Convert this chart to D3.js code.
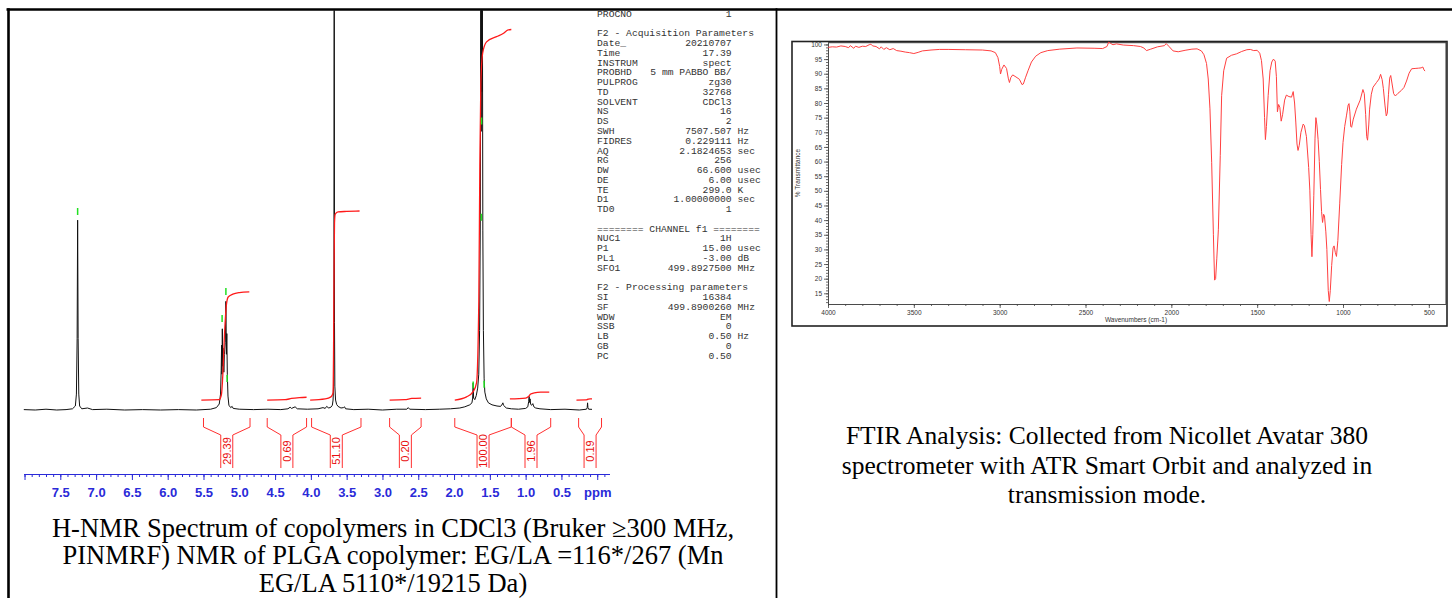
<!DOCTYPE html>
<html>
<head>
<meta charset="utf-8">
<script src="https://cdn.jsdelivr.net/npm/d3@7"></script>
<style>
  html, body { margin: 0; padding: 0; background: #fff; }
  svg { display: block; }
</style>
</head>
<body>
<svg id="page" width="1452" height="598"></svg>
<script>
// ---------------- data ----------------
// 1H NMR trace, [ppm, relative intensity] (baseline = 0)
var nmrTrace = [
  [8.01, 0.1], [7.85, 0.0], [7.70, 0.2], [7.55, 0.0], [7.42, 0.1], [7.33, 0.3],
  [7.29, 1.0], [7.275, 4], [7.265, 18], [7.258, 47.7], [7.251, 18], [7.242, 4],
  [7.23, 1.0], [7.20, 0.3], [7.12, 0.5], [7.05, 0.1], [6.85, 0.2], [6.60, 0.0],
  [6.35, 0.1], [6.10, 0.0], [5.85, 0.1], [5.60, 0.0], [5.40, 0.2], [5.32, 0.6],
  [5.28, 1.5], [5.262, 4], [5.253, 10], [5.247, 16.3], [5.242, 9], [5.237, 20.4],
  [5.231, 11], [5.224, 15.5], [5.216, 9.5], [5.208, 14], [5.196, 17], [5.187, 27.3],
  [5.180, 14], [5.174, 19.2], [5.167, 9], [5.158, 3.5], [5.145, 1.2], [5.12, 0.6],
  [5.10, 0.9], [5.085, 0.4], [5.00, 0.2], [4.80, 0.1], [4.60, 0.2], [4.42, 0.1],
  [4.32, 0.3], [4.29, 0.7], [4.27, 0.4], [4.22, 0.8], [4.19, 0.3], [4.05, 0.2],
  [3.90, 0.3], [3.83, 0.6], [3.80, 0.4], [3.78, 0.9], [3.75, 0.5], [3.72, 0.7],
  [3.70, 1.2], [3.69, 2.5], [3.683, 6], [3.678, 22], [3.674, 135], [3.670, 22],
  [3.665, 6], [3.655, 2.5], [3.64, 1.4], [3.62, 0.9], [3.58, 0.5], [3.545, 0.6],
  [3.53, 0.8], [3.515, 0.3], [3.40, 0.1], [3.20, 0.2], [3.00, 0.0], [2.80, 0.2],
  [2.66, 0.2], [2.64, 0.6], [2.62, 0.2], [2.40, 0.1], [2.20, 0.2], [2.05, 0.3],
  [1.92, 0.5], [1.85, 0.8], [1.78, 1.3], [1.75, 1.8], [1.74, 3], [1.733, 6.8],
  [1.727, 3], [1.71, 2.6], [1.69, 3.6], [1.67, 5.5], [1.655, 9], [1.643, 20],
  [1.633, 48], [1.626, 110], [1.621, 70], [1.616, 140], [1.611, 80], [1.605, 115],
  [1.598, 45], [1.59, 20], [1.58, 8], [1.57, 4.5], [1.55, 2.8], [1.52, 1.8],
  [1.47, 1.3], [1.40, 1.0], [1.35, 0.9], [1.325, 1.5], [1.318, 1.8], [1.31, 1.2],
  [1.27, 0.5], [1.20, 0.3], [1.10, 0.2], [1.00, 0.4], [0.97, 0.8], [0.957, 2.2],
  [0.951, 3.4], [0.945, 1.9], [0.938, 2.8], [0.93, 1.4], [0.915, 1.2], [0.90, 1.6],
  [0.885, 0.8], [0.86, 0.5], [0.80, 0.3], [0.65, 0.1], [0.45, 0.2], [0.25, 0.0],
  [0.15, 0.2], [0.14, 0.6], [0.135, 1.8], [0.13, 0.6], [0.12, 0.2], [0.00, 0.1],
  [-0.10, 0.0], [-0.17, 0.1]
];

// integral curves drawn over the peaks, same intensity units
var integralCurves = [
  [[5.53, 2.5], [5.28, 2.6], [5.25, 3.8], [5.23, 8.8], [5.21, 17.6], [5.18, 26.4], [5.155, 28.4], [5.09, 29.1], [5.00, 29.5], [4.86, 29.7]],
  [[4.61, 2.5], [4.36, 2.6], [4.27, 2.9], [4.16, 3.1], [4.06, 3.2]],
  [[4.01, 2.5], [3.80, 2.8], [3.72, 3.3], [3.69, 4.3], [3.683, 15], [3.676, 35], [3.67, 47], [3.66, 49.2], [3.62, 49.8], [3.50, 49.9], [3.32, 50.0]],
  [[2.90, 2.5], [2.69, 2.6], [2.59, 2.9], [2.46, 3.0]],
  [[1.99, 2.5], [1.825, 3.3], [1.733, 4.6], [1.686, 6.8], [1.654, 27.6], [1.64, 61], [1.626, 82], [1.60, 89.7], [1.546, 92.5], [1.406, 93.8], [1.314, 94.6], [1.244, 95.5], [1.20, 95.6]],
  [[1.22, 2.8], [1.00, 3.0], [0.96, 3.4], [0.93, 4.0], [0.88, 4.3], [0.79, 4.5], [0.67, 4.5]],
  [[0.29, 2.5], [0.16, 2.55], [0.13, 2.7], [0.10, 2.8], [-0.01, 2.8]]
];
var integralRanges = [[5.50, 4.85], [4.61, 4.06], [3.99, 3.30], [2.90, 2.46], [1.99, 1.20], [1.20, 0.65], [0.26, -0.06]];
var integralLabels = ['29.39', '0.69', '51.10', '0.20', '100.00', '1.96', '0.19'];

// peak picking marks [ppm, intensity]
var peakMarks = [[7.258, 49.9], [5.187, 29.8], [5.24, 23.0], [5.17, 7.9], [1.616, 72.6], [1.619, 48.4], [1.733, 6.3], [1.58, 6.5]];

var ppmMajor = [8.0, 7.5, 7.0, 6.5, 6.0, 5.5, 5.0, 4.5, 4.0, 3.5, 3.0, 2.5, 2.0, 1.5, 1.0, 0.5, 0.0];
var ppmLabels = ['', '7.5', '7.0', '6.5', '6.0', '5.5', '5.0', '4.5', '4.0', '3.5', '3.0', '2.5', '2.0', '1.5', '1.0', '0.5', 'ppm'];

// acquisition / processing parameters [name, value, unit]
var paramLines = [
  ['PROCNO', '1', ''],
  ['', '', ''],
  ['F2 - Acquisition Parameters', '', ''],
  ['Date_', '20210707', ''],
  ['Time', '17.39', ''],
  ['INSTRUM', 'spect', ''],
  ['PROBHD', '5 mm PABBO BB/', ''],
  ['PULPROG', 'zg30', ''],
  ['TD', '32768', ''],
  ['SOLVENT', 'CDCl3', ''],
  ['NS', '16', ''],
  ['DS', '2', ''],
  ['SWH', '7507.507', 'Hz'],
  ['FIDRES', '0.229111', 'Hz'],
  ['AQ', '2.1824653', 'sec'],
  ['RG', '256', ''],
  ['DW', '66.600', 'usec'],
  ['DE', '6.00', 'usec'],
  ['TE', '299.0', 'K'],
  ['D1', '1.00000000', 'sec'],
  ['TD0', '1', ''],
  ['', '', ''],
  ['======== CHANNEL f1 ========', '', ''],
  ['NUC1', '1H', ''],
  ['P1', '15.00', 'usec'],
  ['PL1', '-3.00', 'dB'],
  ['SFO1', '499.8927500', 'MHz'],
  ['', '', ''],
  ['F2 - Processing parameters', '', ''],
  ['SI', '16384', ''],
  ['SF', '499.8900260', 'MHz'],
  ['WDW', 'EM', ''],
  ['SSB', '0', ''],
  ['LB', '0.50', 'Hz'],
  ['GB', '0', ''],
  ['PC', '0.50', '']
];

// FTIR trace, [wavenumber cm-1, % transmittance]
var ftirTrace = [
  [4000, 99.0], [3975, 99.2], [3950, 99.1], [3925, 99.5], [3900, 99.3], [3880, 98.9], [3870, 99.6],
  [3850, 98.7], [3840, 99.4], [3820, 99.0], [3800, 99.4], [3780, 99.3], [3760, 99.9], [3750, 100.1],
  [3740, 99.5], [3720, 99.3], [3700, 98.5], [3690, 99.2], [3675, 98.3], [3660, 98.9], [3640, 98.2],
  [3620, 98.6], [3600, 97.9], [3575, 97.7], [3550, 97.4], [3525, 97.2], [3500, 96.9], [3475, 97.3],
  [3450, 97.8], [3400, 98.1], [3350, 98.3], [3300, 98.3], [3200, 98.2], [3100, 98.1], [3050, 97.8],
  [3025, 97.2], [3010, 95.5], [3000, 92.5], [2995, 89.9], [2988, 91.5], [2975, 93.0], [2960, 91.8],
  [2950, 88.5], [2943, 87.0], [2935, 88.7], [2924, 89.6], [2905, 88.9], [2885, 88.1], [2870, 86.3],
  [2862, 86.5], [2850, 88.6], [2835, 91.0], [2815, 94.0], [2790, 96.0], [2760, 97.2], [2720, 97.9],
  [2650, 98.4], [2550, 98.8], [2450, 98.7], [2400, 98.6], [2375, 99.3], [2365, 100.8], [2355, 100.4],
  [2340, 99.9], [2320, 100.2], [2280, 99.8], [2220, 99.6], [2180, 99.3], [2160, 98.8], [2145, 97.9],
  [2120, 98.4], [2080, 99.2], [2040, 99.6], [2030, 100.3], [2015, 99.4], [1990, 97.8], [1960, 97.5],
  [1920, 98.0], [1880, 98.4], [1850, 98.5], [1825, 97.8], [1810, 96.5], [1795, 93.5], [1785, 88.2],
  [1775, 78.0], [1765, 59.6], [1755, 35.0], [1748, 19.5], [1742, 20.0], [1735, 27.0], [1726, 36.7],
  [1715, 62.0], [1707, 82.5], [1695, 91.0], [1678, 95.3], [1650, 96.3], [1620, 96.8], [1590, 97.6],
  [1560, 98.2], [1540, 98.3], [1520, 97.9], [1500, 98.0], [1485, 97.0], [1475, 94.5], [1465, 88.2],
  [1457, 75.0], [1452, 67.5], [1446, 72.0], [1436, 82.5], [1425, 91.0], [1415, 94.0], [1405, 95.0],
  [1395, 94.3], [1388, 89.0], [1382, 77.0], [1375, 79.5], [1368, 78.5], [1360, 73.8], [1352, 76.0],
  [1340, 81.0], [1330, 82.7], [1315, 82.2], [1300, 82.0], [1290, 83.9], [1282, 80.0], [1275, 73.5],
  [1268, 66.0], [1262, 63.8], [1255, 65.5], [1245, 70.0], [1232, 72.8], [1225, 72.3], [1213, 68.5],
  [1200, 58.0], [1193, 50.0], [1186, 35.0], [1181, 27.5], [1176, 35.0], [1170, 48.5], [1163, 68.0],
  [1158, 75.0], [1152, 72.5], [1145, 67.5], [1138, 60.0], [1131, 50.5], [1125, 43.0], [1119, 39.2],
  [1113, 42.0], [1108, 41.5], [1100, 36.0], [1094, 30.0], [1086, 16.0], [1080, 12.2], [1074, 16.0],
  [1066, 24.5], [1058, 30.5], [1052, 31.2], [1045, 29.0], [1038, 27.6], [1030, 33.0], [1019, 45.8],
  [1008, 59.0], [1000, 66.5], [990, 72.0], [980, 75.6], [970, 79.3], [965, 79.8], [960, 77.0],
  [955, 72.0], [950, 71.7], [940, 74.5], [922, 77.9], [900, 81.0], [884, 84.6], [876, 83.2],
  [868, 76.0], [862, 68.5], [857, 67.3], [850, 72.5], [845, 77.9], [835, 83.0], [825, 85.4],
  [805, 87.0], [790, 88.2], [781, 89.8], [772, 88.0], [765, 85.0], [755, 79.0], [748, 75.6],
  [742, 76.5], [735, 83.0], [728, 88.5], [722, 89.4], [714, 86.5], [705, 83.2], [695, 82.4],
  [680, 83.3], [660, 84.3], [645, 85.3], [630, 87.5], [615, 90.2], [600, 91.7], [580, 91.8],
  [560, 91.9], [545, 92.0], [535, 92.3], [528, 91.3], [522, 90.9]
];
var ftirXTicks = [4000, 3500, 3000, 2500, 2000, 1500, 1000, 500];
var ftirYTicks = [15, 20, 25, 30, 35, 40, 45, 50, 55, 60, 65, 70, 75, 80, 85, 90, 95, 100];

var nmrCaption = [
  'H-NMR Spectrum of copolymers in CDCl3 (Bruker \u2265300 MHz,',
  'PINMRF) NMR of PLGA copolymer: EG/LA =116*/267 (Mn',
  'EG/LA 5110*/19215 Da)'
];
var ftirCaption = [
  'FTIR Analysis: Collected from Nicollet Avatar 380',
  'spectrometer with ATR Smart Orbit and analyzed in',
  'transmission mode.'
];

// ---------------- page ----------------
var svg = d3.select('#page');
svg.append('rect').attr('width', 1452).attr('height', 598).attr('fill', '#fff');

var defs = svg.append('defs');
defs.append('clipPath').attr('id', 'nmrClip')
  .append('rect').attr('x', 12).attr('y', 10.5).attr('width', 580).attr('height', 420);
defs.append('clipPath').attr('id', 'paramClip')
  .append('rect').attr('x', 590).attr('y', 10.5).attr('width', 185).attr('height', 360);

// ---------------- NMR ----------------
var x = d3.scaleLinear().domain([8.01, -0.17]).range([23.8, 609.4]);
var y = d3.scaleLinear().domain([0, 100]).range([410, 12]);

var nmr = svg.append('g').attr('class', 'nmr');
var plot = nmr.append('g').attr('clip-path', 'url(#nmrClip)');

var line = d3.line()
  .x(function (d) { return x(d[0]); })
  .y(function (d) { return y(d[1]); });

plot.append('path')
  .datum(nmrTrace)
  .attr('d', line)
  .attr('fill', 'none')
  .attr('stroke', '#111')
  .attr('stroke-width', 1)
  .attr('stroke-linejoin', 'round');

var smooth = d3.line()
  .x(function (d) { return x(d[0]); })
  .y(function (d) { return y(d[1]); })
  .curve(d3.curveMonotoneX);

plot.selectAll('path.integral')
  .data(integralCurves)
  .enter().append('path')
  .attr('class', 'integral')
  .attr('d', smooth)
  .attr('fill', 'none')
  .attr('stroke', '#ff1a1a')
  .attr('stroke-width', 1.3);

plot.selectAll('line.mark')
  .data(peakMarks)
  .enter().append('line')
  .attr('class', 'mark')
  .attr('x1', function (d) { return x(d[0]); })
  .attr('x2', function (d) { return x(d[0]); })
  .attr('y1', function (d) { return y(d[1]) - 3.5; })
  .attr('y2', function (d) { return y(d[1]) + 3.5; })
  .attr('stroke', '#22e022')
  .attr('stroke-width', 1.5);

// integral brackets below the spectrum
var brackets = nmr.selectAll('g.bracket')
  .data(integralRanges)
  .enter().append('g')
  .attr('class', 'bracket');

brackets.append('path')
  .attr('d', function (d) {
    var xl = x(d[0]), xr = x(d[1]), xc = (xl + xr) / 2;
    return 'M' + xl + ',418V427L' + (xc - 6) + ',435V468' +
           'M' + xr + ',418V427L' + (xc + 6) + ',435V468';
  })
  .attr('fill', 'none')
  .attr('stroke', '#ff3030')
  .attr('stroke-width', 1);

brackets.append('text')
  .attr('transform', function (d) {
    var xc = (x(d[0]) + x(d[1])) / 2;
    return 'translate(' + xc + ',451) rotate(-90)';
  })
  .attr('text-anchor', 'middle')
  .attr('dy', '0.36em')
  .attr('font-family', 'Liberation Sans, Arial, sans-serif')
  .attr('font-size', 11)
  .attr('fill', '#e81010')
  .text(function (d, i) { return integralLabels[i]; });

// ppm axis
var minorTicks = d3.range(-1, 81).map(function (i) { return i / 10; });
var axisMinor = d3.axisBottom(x).tickValues(minorTicks).tickSize(3).tickSizeOuter(0).tickFormat('');
var axisMajor = d3.axisBottom(x).tickValues(ppmMajor).tickSize(6).tickSizeOuter(0).tickPadding(8)
  .tickFormat(function (d, i) { return ppmLabels[i]; });

var gMinor = nmr.append('g').attr('transform', 'translate(0,474)').call(axisMinor);
var gMajor = nmr.append('g').attr('transform', 'translate(0,474)').call(axisMajor);
[gMinor, gMajor].forEach(function (g) {
  g.selectAll('path, line').attr('stroke', '#2a2ad8');
});
gMajor.selectAll('text')
  .attr('fill', '#2a2ad8')
  .attr('font-family', 'Liberation Sans, Arial, sans-serif')
  .attr('font-weight', 'bold')
  .attr('font-size', 13);

// parameter listing
var params = nmr.append('g')
  .attr('font-family', 'Liberation Mono, monospace')
  .attr('font-size', 9.7)
  .attr('fill', '#333')
  .attr('clip-path', 'url(#paramClip)');

var rows = params.selectAll('g.row')
  .data(paramLines)
  .enter().append('g')
  .attr('class', 'row')
  .attr('transform', function (d, i) { return 'translate(0,' + (16.8 + i * 9.765) + ')'; });
rows.append('text').attr('x', 597).attr('xml:space', 'preserve').text(function (d) { return d[0]; });
rows.append('text').attr('x', 731.7).attr('text-anchor', 'end').text(function (d) { return d[1]; });
rows.append('text').attr('x', 737.5).text(function (d) { return d[2]; });

// ---------------- FTIR ----------------
var xF = d3.scaleLinear().domain([4000, 400]).range([828, 1446]);
var yF = d3.scaleLinear().domain([11.35, 100.6]).range([304, 42.7]);

var ftir = svg.append('g').attr('class', 'ftir');

ftir.append('rect')
  .attr('x', 792).attr('y', 41.5).attr('width', 655).attr('height', 284.5)
  .attr('fill', 'none').attr('stroke', '#222').attr('stroke-width', 1.6);

var yMinor = d3.range(12, 101);
var xMinor = d3.range(500, 4001, 100);

var gy1 = ftir.append('g').attr('transform', 'translate(828,0)')
  .call(d3.axisLeft(yF).tickValues(yMinor).tickSize(2).tickSizeOuter(0).tickFormat(''));
var gy2 = ftir.append('g').attr('transform', 'translate(828,0)')
  .call(d3.axisLeft(yF).tickValues(ftirYTicks).tickSize(4).tickSizeOuter(0).tickPadding(2).tickFormat(d3.format('d')));
var gx1 = ftir.append('g').attr('transform', 'translate(0,304)')
  .call(d3.axisBottom(xF).tickValues(xMinor).tickSize(2).tickSizeOuter(0).tickFormat(''));
var gx2 = ftir.append('g').attr('transform', 'translate(0,304)')
  .call(d3.axisBottom(xF).tickValues(ftirXTicks).tickSize(4).tickSizeOuter(0).tickPadding(2).tickFormat(d3.format('d')));

[gy1, gy2, gx1, gx2].forEach(function (g) {
  g.selectAll('path, line').attr('stroke', '#444').attr('stroke-width', 0.8);
  g.selectAll('text')
    .attr('fill', '#333')
    .attr('font-family', 'Liberation Sans, Arial, sans-serif')
    .attr('font-size', 6.5);
});

// top / right edge of the plot area
ftir.append('path')
  .attr('d', 'M828,42.7H1446V304')
  .attr('fill', 'none').attr('stroke', '#333').attr('stroke-width', 1);

var lineF = d3.line()
  .x(function (d) { return xF(d[0]); })
  .y(function (d) { return yF(d[1]); });

ftir.append('path')
  .datum(ftirTrace)
  .attr('d', lineF)
  .attr('fill', 'none')
  .attr('stroke', '#ff4040')
  .attr('stroke-width', 1)
  .attr('stroke-linejoin', 'round');

ftir.append('text')
  .attr('transform', 'translate(800,173) rotate(-90)')
  .attr('text-anchor', 'middle')
  .attr('font-family', 'Liberation Sans, Arial, sans-serif')
  .attr('font-size', 6.5)
  .attr('fill', '#333')
  .text('% Transmittance');

ftir.append('text')
  .attr('x', 1136).attr('y', 322)
  .attr('text-anchor', 'middle')
  .attr('font-family', 'Liberation Sans, Arial, sans-serif')
  .attr('font-size', 6.5)
  .attr('fill', '#333')
  .text('Wavenumbers (cm-1)');

// ---------------- captions ----------------
svg.append('g')
  .attr('font-family', 'Liberation Serif, Times New Roman, serif')
  .attr('font-size', 26.5)
  .attr('fill', '#000')
  .attr('text-anchor', 'middle')
  .selectAll('text')
  .data(nmrCaption)
  .enter().append('text')
  .attr('x', 393)
  .attr('y', function (d, i) { return 536.5 + i * 27.5; })
  .text(function (d) { return d; });

svg.append('g')
  .attr('font-family', 'Liberation Serif, Times New Roman, serif')
  .attr('font-size', 25.5)
  .attr('fill', '#000')
  .attr('text-anchor', 'middle')
  .selectAll('text')
  .data(ftirCaption)
  .enter().append('text')
  .attr('x', 1107)
  .attr('y', function (d, i) { return 444 + i * 29.5; })
  .text(function (d) { return d; });

// ---------------- table borders ----------------
var borders = svg.append('g').attr('stroke', '#000');
borders.append('line').attr('x1', 6.5).attr('x2', 1452).attr('y1', 9.5).attr('y2', 9.5).attr('stroke-width', 2.4);
borders.append('line').attr('x1', 8.5).attr('x2', 8.5).attr('y1', 8.3).attr('y2', 598).attr('stroke-width', 2.6);
borders.append('line').attr('x1', 776.5).attr('x2', 776.5).attr('y1', 8.3).attr('y2', 598).attr('stroke-width', 1.8);
</script>
</body>
</html>
